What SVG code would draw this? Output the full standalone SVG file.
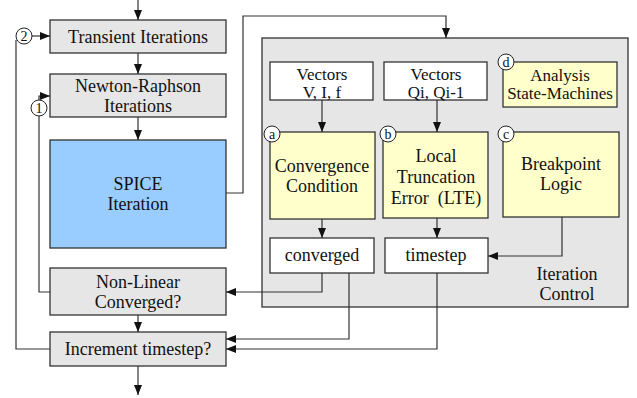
<svg xmlns="http://www.w3.org/2000/svg" width="637" height="398" viewBox="0 0 637 398">
<style>
text{font-family:"Liberation Serif","Times New Roman",serif;font-size:18px;fill:#111;text-anchor:middle}
.s{font-size:17px}
.g{fill:#e6e6e6;stroke:#333;stroke-width:1.3}
.b{fill:#99ccff;stroke:#333;stroke-width:1.3}
.y{fill:#ffffcc;stroke:#333;stroke-width:1.3}
.w{fill:#fff;stroke:#333;stroke-width:1.3}
.c{fill:#fff;stroke:#222;stroke-width:1}
.cl{font-size:14px}
.ln{fill:none;stroke:#333;stroke-width:1.2}
.ar{fill:none;stroke:#333;stroke-width:1.2;marker-end:url(#ah)}
</style>
<defs>
<marker id="ah" viewBox="0 0 10 8" refX="10" refY="4" markerWidth="10" markerHeight="8" markerUnits="userSpaceOnUse" orient="auto">
<path d="M0,0 L10,4 L0,8 Z" fill="#111"/>
</marker>
</defs>
<g id="iteration-control">
<rect class="g" x="262" y="38" width="366" height="269"/>
<text x="567" y="280">Iteration</text>
<text x="567" y="300">Control</text>
</g>
<g id="transient">
<rect class="g" x="50" y="20" width="176" height="33"/>
<text x="138" y="43">Transient Iterations</text>
</g>
<g id="newton">
<rect class="g" x="50" y="74" width="176" height="43"/>
<text x="138" y="92">Newton-Raphson</text>
<text x="138" y="112">Iterations</text>
</g>
<g id="spice">
<rect class="b" x="50" y="140" width="176" height="108"/>
<text x="138" y="190">SPICE</text>
<text x="138" y="210">Iteration</text>
</g>
<g id="nonlinear">
<rect class="g" x="50" y="268" width="176" height="47"/>
<text x="138" y="288">Non-Linear</text>
<text x="138" y="308">Converged?</text>
</g>
<g id="increment">
<rect class="g" x="50" y="332" width="176" height="34"/>
<text x="138" y="355">Increment timestep?</text>
</g>
<g id="vectors-vif">
<rect class="w" x="270" y="62" width="103" height="38"/>
<text class="s" x="322" y="80">Vectors</text>
<text class="s" x="322" y="98">V, I, f</text>
</g>
<g id="vectors-qi">
<rect class="w" x="384" y="62" width="103" height="38"/>
<text class="s" x="436" y="80">Vectors</text>
<text class="s" x="436" y="98">Qi, Qi-1</text>
</g>
<g id="analysis">
<rect class="y" x="503" y="62" width="114" height="45"/>
<text class="s" x="560" y="81">Analysis</text>
<text class="s" x="560" y="99">State-Machines</text>
</g>
<g id="convergence">
<rect class="y" x="270" y="132" width="105" height="87"/>
<text x="322" y="172">Convergence</text>
<text x="322" y="192">Condition</text>
</g>
<g id="lte">
<rect class="y" x="383" y="132" width="105" height="86"/>
<text x="436" y="162">Local</text>
<text x="436" y="183">Truncation</text>
<text x="436" y="204" xml:space="preserve">Error  (LTE)</text>
</g>
<g id="breakpoint">
<rect class="y" x="503" y="132" width="116" height="85"/>
<text x="561" y="170">Breakpoint</text>
<text x="561" y="190">Logic</text>
</g>
<g id="converged">
<rect class="w" x="270" y="238" width="104" height="35"/>
<text x="322" y="261">converged</text>
</g>
<g id="timestep">
<rect class="w" x="385" y="238" width="103" height="35"/>
<text x="436" y="261">timestep</text>
</g>
<g id="connectors">
<path class="ar" d="M138,0 V20"/>
<path class="ar" d="M138,53 V74"/>
<path class="ar" d="M138,117 V140"/>
<path class="ar" d="M138,315 V332"/>
<path class="ar" d="M138,366 V395"/>
<path class="ln" d="M50,349 H16 V40"/>
<path class="ar" d="M32,36 H50"/>
<path class="ln" d="M50,292 H39 V116"/>
<path class="ar" d="M39,100 V96 H50"/>
<path class="ar" d="M226,193 H243 V16 H446 V38"/>
<path class="ar" d="M322,100 V132"/>
<path class="ar" d="M437,100 V132"/>
<path class="ar" d="M322,219 V238"/>
<path class="ar" d="M437,218 V238"/>
<path class="ar" d="M562,217 V256 H488"/>
<path class="ar" d="M322,273 V292 H226"/>
<path class="ar" d="M349,273 V339 H226"/>
<path class="ar" d="M437,273 V349 H226"/>
</g>
<g id="markers">
<circle class="c" cx="24" cy="36" r="8"/><text class="cl" x="24" y="41">2</text>
<circle class="c" cx="39" cy="108" r="8"/><text class="cl" x="39" y="113">1</text>
<circle class="c" cx="272" cy="134" r="8"/><text class="cl" x="272" y="139">a</text>
<circle class="c" cx="388" cy="134" r="8"/><text class="cl" x="388" y="139">b</text>
<circle class="c" cx="506" cy="134" r="8"/><text class="cl" x="506" y="139">c</text>
<circle class="c" cx="506" cy="62" r="8"/><text class="cl" x="506" y="67">d</text>
</g>
</svg>
